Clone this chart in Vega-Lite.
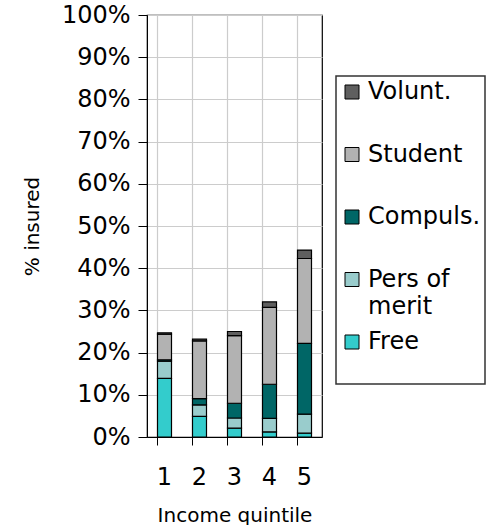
{
  "$schema": "https://vega.github.io/schema/vega-lite/v6.json",
  "width": 175,
  "height": 422,
  "autosize": {"type": "none"},
  "padding": {"left": 147, "top": 15, "right": 167, "bottom": 88},
  "background": "#ffffff",
  "config": {
    "font": "DejaVu Sans",
    "view": {"stroke": "#000000", "strokeWidth": 1.2},
    "axis": {"labelColor": "#000000", "titleColor": "#000000", "domainColor": "#000000", "tickColor": "#000000", "gridColor": "#cccccc", "gridWidth": 1.2, "titleFontWeight": "normal", "labelFont": "DejaVu Sans", "titleFont": "DejaVu Sans"}
  },
  "data": {
    "values": [
      {"q": "1", "type": "Free", "ord": 1, "v": 13.9},
      {"q": "1", "type": "Pers of merit", "ord": 2, "v": 4.1},
      {"q": "1", "type": "Compuls.", "ord": 3, "v": 0.3},
      {"q": "1", "type": "Student", "ord": 4, "v": 6.1},
      {"q": "1", "type": "Volunt.", "ord": 5, "v": 0.3},
      {"q": "2", "type": "Free", "ord": 1, "v": 4.9},
      {"q": "2", "type": "Pers of merit", "ord": 2, "v": 2.7},
      {"q": "2", "type": "Compuls.", "ord": 3, "v": 1.5},
      {"q": "2", "type": "Student", "ord": 4, "v": 13.7},
      {"q": "2", "type": "Volunt.", "ord": 5, "v": 0.4},
      {"q": "3", "type": "Free", "ord": 1, "v": 2.1},
      {"q": "3", "type": "Pers of merit", "ord": 2, "v": 2.4},
      {"q": "3", "type": "Compuls.", "ord": 3, "v": 3.5},
      {"q": "3", "type": "Student", "ord": 4, "v": 16.0},
      {"q": "3", "type": "Volunt.", "ord": 5, "v": 1.0},
      {"q": "4", "type": "Free", "ord": 1, "v": 1.2},
      {"q": "4", "type": "Pers of merit", "ord": 2, "v": 3.2},
      {"q": "4", "type": "Compuls.", "ord": 3, "v": 8.1},
      {"q": "4", "type": "Student", "ord": 4, "v": 18.2},
      {"q": "4", "type": "Volunt.", "ord": 5, "v": 1.3},
      {"q": "5", "type": "Free", "ord": 1, "v": 0.9},
      {"q": "5", "type": "Pers of merit", "ord": 2, "v": 4.5},
      {"q": "5", "type": "Compuls.", "ord": 3, "v": 16.8},
      {"q": "5", "type": "Student", "ord": 4, "v": 20.1},
      {"q": "5", "type": "Volunt.", "ord": 5, "v": 2.0}
    ]
  },
  "mark": {"type": "bar", "stroke": "#000000", "strokeWidth": 1.2},
  "encoding": {
    "x": {
      "field": "q", "type": "ordinal",
      "scale": {"paddingInner": 0.6, "paddingOuter": 0.3},
      "axis": {"title": "Income quintile", "labelAngle": 0, "bandPosition": 0, "labelOffset": 0, "labelFontSize": 24, "titleFontSize": 20, "tickSize": 8, "labelPadding": 20, "titlePadding": 16, "grid": true}
    },
    "y": {
      "field": "v", "type": "quantitative", "stack": "zero",
      "scale": {"domain": [0, 100], "nice": false},
      "axis": {"title": "% insured", "values": [0, 10, 20, 30, 40, 50, 60, 70, 80, 90, 100], "labelExpr": "datum.value + '%'", "labelFontSize": 24, "titleFontSize": 20, "tickSize": 9, "labelPadding": 8, "titlePadding": 19}
    },
    "order": {"field": "ord", "type": "quantitative"},
    "color": {
      "field": "type", "type": "nominal",
      "scale": {"domain": ["Volunt.", "Student", "Compuls.", "Pers of merit", "Free"], "range": ["#5f5f5f", "#b2b2b2", "#006666", "#99cccc", "#33cccc"]},
      "legend": {
        "title": " ", "titleOrient": "bottom", "titleFontSize": 16, "titlePadding": 10,
        "orient": "none", "legendX": 189, "legendY": 61, "direction": "vertical", "gridAlign": "all",
        "rowPadding": 11.5, "symbolType": "square", "symbolSize": 196, "symbolStrokeColor": "#000000", "symbolStrokeWidth": 1,
        "labelFont": "DejaVu Sans", "labelFontSize": 24, "labelColor": "#000000", "labelOffset": 4, "labelLimit": 0,
        "padding": 4, "strokeColor": "#333333", "fillColor": "#ffffff",
        "labelExpr": "datum.label == 'Pers of merit' ? ['Pers of', 'merit'] : datum.label",
        "encode": {
          "labels": {"update": {"lineHeight": {"value": 27}}},
          "legend": {"update": {"strokeWidth": {"value": 1.5}}}
        }
      }
    }
  }
}
